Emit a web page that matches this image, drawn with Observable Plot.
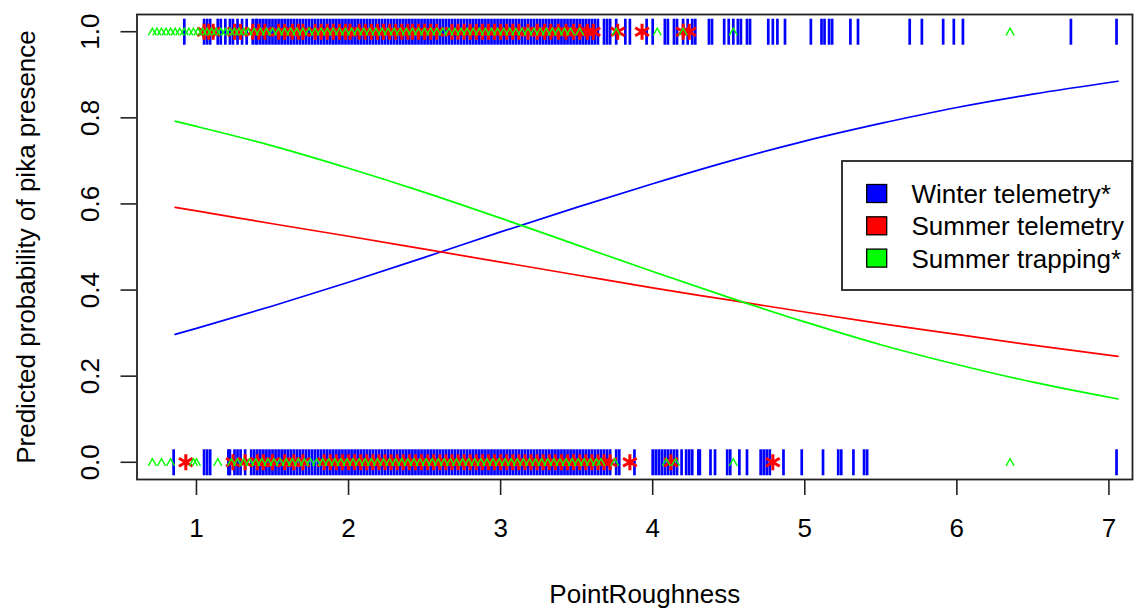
<!DOCTYPE html>
<html><head><meta charset="utf-8">
<script src="https://cdn.jsdelivr.net/npm/d3@7"></script>
<script src="https://cdn.jsdelivr.net/npm/@observablehq/plot@0.6"></script>
<style>html,body{margin:0;padding:0;background:#fff;}</style>
</head><body><div id="chart"></div>
<script>
const xTicks = [1, 2, 3, 4, 5, 6, 7];
const yTicks = [0, 0.2, 0.4, 0.6, 0.8, 1.0];
const xLabel = "PointRoughness";
const yLabel = "Predicted probability of pika presence";
const seriesNames = ["Winter telemetry*", "Summer telemetry", "Summer trapping*"];
const seriesColors = ["#0000FF", "#FF0000", "#00FF00"];

// fitted curves
const curveX = [0.86, 1.0, 1.5, 2.0, 2.5, 3.0, 3.5, 4.0, 4.5, 5.0, 5.5, 6.0, 6.5, 7.06];
const winterCurve = [0.297, 0.311, 0.363, 0.418, 0.476, 0.535, 0.592, 0.647, 0.699, 0.746, 0.787, 0.824, 0.855, 0.885];
const summerTelCurve = [0.592, 0.584, 0.554, 0.525, 0.495, 0.465, 0.435, 0.405, 0.377, 0.349, 0.322, 0.297, 0.272, 0.246];
const summerTrapCurve = [0.792, 0.780, 0.735, 0.683, 0.627, 0.567, 0.505, 0.443, 0.383, 0.326, 0.273, 0.227, 0.186, 0.147];

// observations (rug): presence (1) and absence (0)
const winterPresent = [0.92, 1.05, 1.07, 1.09, 1.14, 1.16, 1.19, 1.22, 1.24, 1.27, 1.30, 1.33,
  1.37, 1.39, 1.40, 1.42, 1.44, 1.46, 1.48, 1.50, 1.52, 1.54, 1.56, 1.58, 1.60, 1.62, 1.64, 1.66, 1.68, 1.70,
  1.72, 1.74, 1.76, 1.78, 1.80, 1.82, 1.84, 1.86, 1.88, 1.90, 1.92, 1.94, 1.96, 1.98, 2.00, 2.02, 2.04, 2.06,
  2.08, 2.10, 2.12, 2.14, 2.16, 2.18, 2.20, 2.22, 2.24, 2.26, 2.28, 2.30, 2.32, 2.34, 2.36, 2.38, 2.40, 2.42,
  2.44, 2.46, 2.48, 2.50, 2.52, 2.54, 2.56, 2.58, 2.60, 2.62, 2.64, 2.66, 2.68, 2.70, 2.72, 2.74, 2.76, 2.78,
  2.80, 2.82, 2.84, 2.86, 2.88, 2.90, 2.92, 2.94, 2.96, 2.98, 3.00, 3.02, 3.04, 3.06, 3.08, 3.10, 3.12, 3.14,
  3.16, 3.18, 3.20, 3.22, 3.24, 3.26, 3.28, 3.30, 3.32, 3.34, 3.36, 3.38, 3.40, 3.42, 3.44, 3.46, 3.48, 3.50,
  3.52, 3.54, 3.56, 3.58, 3.60, 3.62, 3.64,
  3.68, 3.70, 3.72, 3.76, 3.82, 3.85, 3.96, 4.00, 4.08, 4.10, 4.14, 4.16, 4.20, 4.23, 4.26, 4.28, 4.37, 4.39,
  4.47, 4.50, 4.53, 4.56, 4.58, 4.62, 4.64, 4.76, 4.79, 4.82, 4.87, 5.04, 5.11, 5.13, 5.16, 5.18, 5.30, 5.35,
  5.69, 5.77, 5.91, 5.98, 6.04, 6.75, 7.05];
const winterAbsent = [0.85, 1.05, 1.07, 1.09, 1.21, 1.22, 1.25, 1.27, 1.29, 1.32,
  1.36, 1.38, 1.40, 1.42, 1.44, 1.46, 1.48, 1.50, 1.52, 1.54, 1.56, 1.58, 1.60, 1.62, 1.64, 1.66, 1.68, 1.70,
  1.72, 1.74, 1.76, 1.78, 1.80, 1.82, 1.84, 1.86, 1.88, 1.90, 1.92, 1.94, 1.96, 1.98, 2.00, 2.02, 2.04, 2.06,
  2.08, 2.10, 2.12, 2.14, 2.16, 2.18, 2.20, 2.22, 2.24, 2.26, 2.28, 2.30, 2.32, 2.34, 2.36, 2.38, 2.40, 2.42,
  2.44, 2.46, 2.48, 2.50, 2.52, 2.54, 2.56, 2.58, 2.60, 2.62, 2.64, 2.66, 2.68, 2.70, 2.72, 2.74, 2.76, 2.78,
  2.80, 2.82, 2.84, 2.86, 2.88, 2.90, 2.92, 2.94, 2.96, 2.98, 3.00, 3.02, 3.04, 3.06, 3.08, 3.10, 3.12, 3.14,
  3.16, 3.18, 3.20, 3.22, 3.24, 3.26, 3.28, 3.30, 3.32, 3.34, 3.36, 3.38, 3.40, 3.42, 3.44, 3.46, 3.48, 3.50,
  3.52, 3.54, 3.56, 3.58, 3.60, 3.62, 3.64, 3.66, 3.68, 3.70, 3.72,
  3.76, 3.78, 3.88, 4.00, 4.02, 4.04, 4.06, 4.08, 4.10, 4.12, 4.14, 4.16, 4.19, 4.22, 4.24, 4.26, 4.30, 4.31,
  4.38, 4.41, 4.49, 4.51, 4.57, 4.62, 4.71, 4.73, 4.75, 4.77, 4.86, 4.98, 5.12, 5.22, 5.24, 5.32, 5.39, 5.41, 7.05];
const summerTelPresent = [1.05, 1.08, 1.11, 1.25, 1.29, 1.37, 1.41, 1.45, 1.54, 1.58, 1.63, 1.67, 1.70, 1.78,
  1.82, 1.86, 1.90, 1.94, 1.98, 2.01, 2.07, 2.11, 2.15, 2.19, 2.23, 2.27, 2.31, 2.35, 2.39, 2.42, 2.46, 2.50,
  2.54, 2.58, 2.68, 2.72, 2.76, 2.80, 2.84, 2.88, 2.92, 2.96, 3.00, 3.04, 3.08, 3.12, 3.18, 3.24, 3.29, 3.33,
  3.38, 3.43, 3.48, 3.52, 3.57, 3.61, 3.77, 3.93, 4.20, 4.24];
const summerTelAbsent = [0.93, 1.24, 1.32, 1.40, 1.44, 1.50, 1.58, 1.64, 1.70, 1.84, 1.88, 1.92, 1.96, 2.00,
  2.04, 2.08, 2.12, 2.16, 2.20, 2.24, 2.28, 2.32, 2.36, 2.40, 2.44, 2.48, 2.52, 2.56, 2.60, 2.64, 2.68, 2.72,
  2.76, 2.80, 2.84, 2.88, 2.92, 2.96, 3.00, 3.04, 3.08, 3.12, 3.16, 3.20, 3.24, 3.28, 3.32, 3.36, 3.40, 3.44,
  3.48, 3.52, 3.56, 3.60, 3.64, 3.68, 3.72, 3.85, 4.12, 4.79];
const summerTrapPresent = [0.71, 0.74, 0.77, 0.80, 0.83, 0.86, 0.89, 0.92, 0.95, 0.98, 1.01, 1.04, 1.07, 1.10,
  1.13, 1.16, 1.19, 1.22, 1.25, 1.28, 1.31, 1.34, 1.38, 1.42, 1.46, 1.50, 1.54, 1.58, 1.62, 1.66, 1.70, 1.74,
  1.78, 1.82, 1.86, 1.90, 1.94, 1.98, 2.02, 2.06, 2.10, 2.14, 2.18, 2.22, 2.26, 2.30, 2.34, 2.38, 2.42, 2.46,
  2.50, 2.54, 2.58, 2.62, 2.66, 2.70, 2.74, 2.78, 2.82, 2.86, 2.90, 2.94, 2.98, 3.02, 3.06, 3.10, 3.14, 3.18,
  3.22, 3.26, 3.30, 3.34, 3.38, 3.42, 3.46, 3.52, 3.76, 4.03, 4.20, 4.53, 6.35];
const summerTrapAbsent = [0.71, 0.77, 0.83, 0.98, 1.00, 1.14, 1.23, 1.27, 1.31, 1.35, 1.39, 1.43, 1.47, 1.51,
  1.55, 1.59, 1.63, 1.67, 1.71, 1.75, 1.79, 1.83, 1.87, 1.91, 1.95, 1.99, 2.03, 2.07, 2.11, 2.15, 2.19, 2.23,
  2.27, 2.31, 2.35, 2.39, 2.43, 2.47, 2.51, 2.55, 2.59, 2.63, 2.67, 2.71, 2.75, 2.79, 2.83, 2.87, 2.91, 2.95,
  2.99, 3.03, 3.07, 3.11, 3.15, 3.19, 3.23, 3.27, 3.31, 3.35, 3.39, 3.43, 3.47, 3.51, 3.55, 3.59, 3.63, 3.66,
  3.75, 4.09, 4.15, 4.53, 6.35];

const curves = [winterCurve, summerTelCurve, summerTrapCurve];
const curveRows = seriesNames.flatMap((name, i) => curveX.map((x, j) => ({series: name, x, p: curves[i][j]})));
const rug = (present, absent) => present.map(x => ({x, y: 1})).concat(absent.map(x => ({x, y: 0})));

const vbar = {draw(ctx, size) { const r = Math.sqrt(size / Math.PI); ctx.moveTo(0, -r); ctx.lineTo(0, r); }};
const caret = {draw(ctx, size) { const r = Math.sqrt(size / Math.PI); ctx.moveTo(-r, r * 0.9); ctx.lineTo(0, -r * 0.9); ctx.lineTo(r, r * 0.9); }};

const FONT = 26;
const svg = Plot.plot({
  width: 1140, height: 610,
  marginLeft: 136.5, marginRight: 8, marginTop: 14, marginBottom: 131,
  style: {fontFamily: "'Liberation Sans', Arial, sans-serif", background: "#fff", color: "#000"},
  x: {domain: [0.609, 7.155]},
  y: {domain: [-0.04, 1.04]},
  color: {domain: seriesNames, range: seriesColors},
  marks: [
    Plot.dot(rug(winterPresent, winterAbsent), {x: "x", y: "y", symbol: vbar, r: 13, stroke: seriesColors[0], strokeWidth: 2.7, fill: "none"}),
    Plot.dot(rug(summerTelPresent, summerTelAbsent), {x: "x", y: "y", symbol: "asterisk", r: 7.5, stroke: seriesColors[1], strokeWidth: 3}),
    Plot.dot(rug(summerTrapPresent, summerTrapAbsent), {x: "x", y: "y", symbol: caret, r: 4, stroke: seriesColors[2], strokeWidth: 1.4, fill: "none"}),
    Plot.line(curveRows, {x: "x", y: "p", z: "series", stroke: "series", strokeWidth: 1.7, curve: "monotone-x"}),
    Plot.frame({stroke: "#222", strokeWidth: 1.8}),
    Plot.axisX({ticks: xTicks, tickFormat: d => String(d), tickSize: 16, tickPadding: 23, fontSize: FONT, label: null, stroke: "#222", strokeWidth: 1.6, fill: "#000"}),
    Plot.axisY({ticks: yTicks, tickSize: 16, fill: "none", label: null, stroke: "#222", strokeWidth: 1.6}),
    Plot.text(yTicks, {y: d => d, text: d => d3.format(".1f")(d), frameAnchor: "left", dx: -38, rotate: -90, fontSize: FONT, lineAnchor: "bottom", textAnchor: "middle", fill: "#000"}),
    Plot.text([xLabel], {text: d => d, frameAnchor: "bottom", dx: 10, dy: 123, fontSize: FONT, lineAnchor: "bottom", textAnchor: "middle", fill: "#000"}),
    Plot.text([yLabel], {text: d => d, frameAnchor: "left", dx: -102, rotate: -90, fontSize: FONT, lineAnchor: "bottom", textAnchor: "middle", fill: "#000"})
  ]
});

// legend box inside the plot
const lg = d3.select(svg).append("g");
lg.append("rect").attr("x", 842).attr("y", 161).attr("width", 290).attr("height", 129)
  .attr("fill", "#fff").attr("stroke", "#222").attr("stroke-width", 1.8);
seriesNames.forEach((name, i) => {
  const cy = 193.5 + i * 32.3;
  lg.append("rect").attr("x", 866.7).attr("y", cy - 9).attr("width", 20).attr("height", 18)
    .attr("fill", seriesColors[i]).attr("stroke", "#000").attr("stroke-width", 1.3);
  lg.append("text").attr("x", 911.5).attr("y", cy).attr("dy", "0.37em")
    .attr("text-anchor", "start").attr("font-size", FONT).attr("fill", "#000").text(name);
});

document.getElementById("chart").appendChild(svg);
</script>
</body></html>
